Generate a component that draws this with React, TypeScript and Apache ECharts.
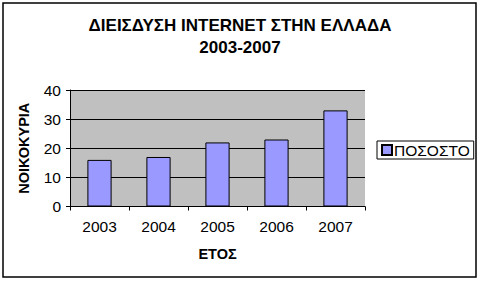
import React, { useEffect, useRef } from "react";
import * as echarts from "echarts";

const categories = ["2003", "2004", "2005", "2006", "2007"];
const values = [16, 17, 22, 23, 33];
const seriesName = "ΠΟΣΟΣΤΟ";
const titleText = "ΔΙΕΙΣΔΥΣΗ INTERNET ΣΤΗΝ ΕΛΛΑΔΑ\n2003-2007";
const xName = "ΕΤΟΣ";
const yName = "ΝΟΙΚΟΚΥΡΙΑ";

const FONT = "'Liberation Sans', Arial, sans-serif";

export default function App() {
  const ref = useRef<HTMLDivElement>(null);
  useEffect(() => {
    if (!ref.current) return;
    const chart = echarts.init(ref.current, null, { renderer: "svg" });
    chart.setOption({
      animation: false,
      backgroundColor: "#ffffff",
      textStyle: { fontFamily: FONT },
      title: {
        text: titleText,
        left: "center",
        top: 9,
        textStyle: {
          fontFamily: FONT,
          fontSize: 17,
          fontWeight: "bold",
          color: "#000",
          lineHeight: 22,
        },
      },
      graphic: [
        {
          type: "rect",
          shape: { x: 3, y: 3, width: 473, height: 274 },
          style: { fill: "none", stroke: "#000", lineWidth: 1.5 },
          z: 100,
        },
      ],
      legend: {
        left: 377,
        top: 141,
        orient: "vertical",
        padding: [1, 4, 1, 4],
        borderColor: "#000",
        borderWidth: 1,
        itemWidth: 10,
        itemHeight: 10,
        itemGap: 4,
        icon: "rect",
        textStyle: { fontFamily: FONT, fontSize: 15.5, color: "#000", padding: [0, 0, 0, -3] },
        data: [seriesName],
      },
      grid: {
        left: 70,
        top: 90,
        width: 295,
        height: 116.5,
        show: true,
        backgroundColor: "#C0C0C0",
        borderWidth: 0,
      },
      xAxis: {
        type: "category",
        data: categories,
        name: xName,
        nameLocation: "middle",
        nameGap: 40,
        nameTextStyle: { fontFamily: FONT, fontSize: 14.5, fontWeight: "bold", color: "#000" },
        axisLine: { lineStyle: { color: "#000", width: 1 } },
        axisTick: { show: true, length: 4, lineStyle: { color: "#000" } },
        axisLabel: { fontFamily: FONT, fontSize: 15.5, color: "#000", margin: 12 },
      },
      yAxis: {
        type: "value",
        min: 0,
        max: 40,
        interval: 10,
        name: yName,
        nameLocation: "middle",
        nameGap: 39,
        nameRotate: 90,
        nameTextStyle: { fontFamily: FONT, fontSize: 14.5, fontWeight: "bold", color: "#000" },
        axisLine: { show: true, lineStyle: { color: "#000", width: 1 } },
        axisTick: { show: true, length: 4, lineStyle: { color: "#000" } },
        axisLabel: { fontFamily: FONT, fontSize: 15.5, color: "#000", margin: 9 },
        splitLine: { show: true, lineStyle: { color: "#000", width: 1 } },
      },
      series: [
        {
          name: seriesName,
          type: "bar",
          data: values,
          barWidth: "41%",
          itemStyle: { color: "#9999FF", borderColor: "#000", borderWidth: 1 },
        },
      ],
    });
    return () => chart.dispose();
  }, []);
  return (
    <div
      ref={ref}
      style={{ position: "fixed", left: 0, top: 0, width: 480, height: 281 }}
    />
  );
}
